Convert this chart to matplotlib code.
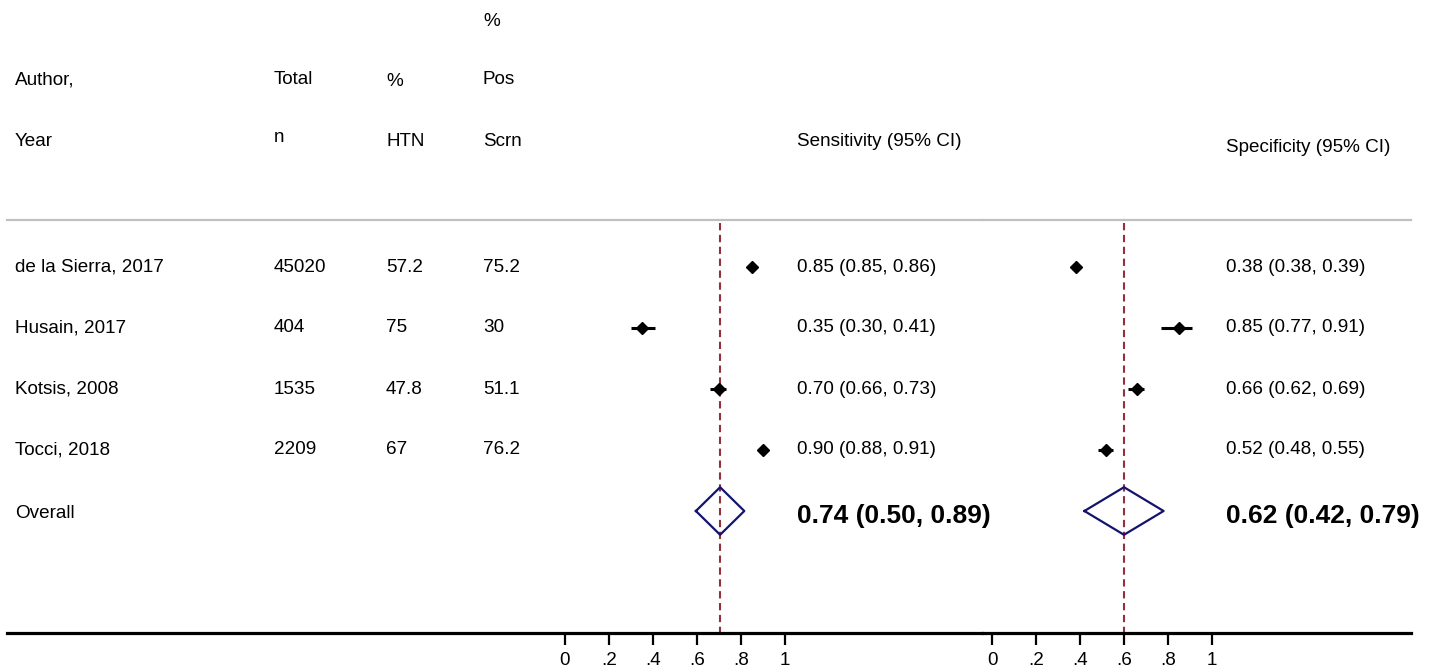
import numpy as np
import matplotlib
matplotlib.use("Agg")
import matplotlib.pyplot as plt

plt.rcParams['font.family'] = ['Liberation Sans', 'DejaVu Sans']

# Study data
authors = ["de la Sierra, 2017", "Husain, 2017", "Kotsis, 2008", "Tocci, 2018"]
total_n = ["45020", "404", "1535", "2209"]
pct_htn = ["57.2", "75", "47.8", "67"]
pct_pos = ["75.2", "30", "51.1", "76.2"]

sens = [0.85, 0.35, 0.70, 0.90]
sens_lo = [0.85, 0.30, 0.66, 0.88]
sens_hi = [0.86, 0.41, 0.73, 0.91]

spec = [0.38, 0.85, 0.66, 0.52]
spec_lo = [0.38, 0.77, 0.62, 0.48]
spec_hi = [0.39, 0.91, 0.69, 0.55]

# Pooled estimates (text) and diamonds as drawn (lo, mid, hi)
sens_overall_txt = "0.74 (0.50, 0.89)"
spec_overall_txt = "0.62 (0.42, 0.79)"
sens_diamond = [0.595, 0.705, 0.815]
spec_diamond = [0.42, 0.60, 0.78]

ticks = [0, 0.2, 0.4, 0.6, 0.8, 1]
tick_labels = ["0", ".2", ".4", ".6", ".8", "1"]

W, H = 1437, 669
fig = plt.figure(figsize=(W / 100, H / 100), dpi=100)

FS = 13.6
RED = "#93303c"
NAVY = "#14146e"


def px(x, y):
    return x / W, 1 - y / H


# Header / table text
def ftext(x, y, s, **kw):
    fx, fy = px(x, y)
    fig.text(fx, fy, s, fontsize=FS, va="center", ha="left", **kw)


ftext(483, 22, "%")
ftext(15, 80, "Author,")
ftext(274, 80, "Total")
ftext(386, 82, "%")
ftext(483, 80, "Pos")
ftext(15, 141, "Year")
ftext(274, 138, "n")
ftext(386, 141, "HTN")
ftext(483, 141, "Scrn")
ftext(797, 141, "Sensitivity (95% CI)")
ftext(1226, 148, "Specificity (95% CI)")

row_y0, row_dy = 267, 61
for i in range(len(authors)):
    y = row_y0 + row_dy * i
    ftext(15, y, authors[i])
    ftext(274, y, total_n[i])
    ftext(386, y, pct_htn[i])
    ftext(483, y, pct_pos[i])
ftext(15, row_y0 + row_dy * 4 + 3, "Overall")

# Panel axes: x scale 220 px per unit, 0 at 565 (sens) and 992 (spec)
top_px, bot_px = 219, 633
ylim = ((bot_px - row_y0) / row_dy, (top_px - row_y0) / row_dy)
scale = 220.0


def make_ax(left_px, right_px, zero_px):
    l, b = left_px / W, 1 - bot_px / H
    w, h = (right_px - left_px) / W, (bot_px - top_px) / H
    ax = fig.add_axes([l, b, w, h])
    ax.set_xlim((left_px - zero_px) / scale, (right_px - zero_px) / scale)
    ax.set_ylim(*ylim)
    for s in ["top", "left", "right"]:
        ax.spines[s].set_visible(False)
    ax.spines["bottom"].set_linewidth(2.3)
    ax.set_yticks([])
    ax.set_xticks(ticks)
    ax.set_xticklabels(tick_labels, fontsize=FS)
    ax.tick_params(axis="x", direction="out", length=8.5, width=1.6, pad=5)
    ax.patch.set_alpha(0)
    # gray separator under header
    ax.axhline((220 - row_y0) / row_dy, color="#c0c0c0", lw=1.6, clip_on=False)
    return ax


def draw_panel(ax, est, lo, hi, diamond, overall_txt, txt_x):
    rows = np.arange(len(est))
    ax.vlines(diamond[1], (223 - row_y0) / row_dy, ylim[0], color=RED,
              lw=1.5, linestyles=(0, (3.5, 2.2)), zorder=1)
    ax.hlines(rows, lo, hi, color="black", lw=2.2, zorder=2)
    ax.plot(est, rows, "D", color="black", ms=6, zorder=3)
    yo = len(est)
    dx = [diamond[0], diamond[1], diamond[2], diamond[1], diamond[0]]
    dy = [yo, yo - 0.39, yo, yo + 0.39, yo]
    ax.plot(dx, dy, color=NAVY, lw=1.6, zorder=3)
    for i in rows:
        ax.text(txt_x, i, f"{est[i]:.2f} ({lo[i]:.2f}, {hi[i]:.2f})",
                fontsize=FS, va="center", ha="left")
    ax.text(txt_x, yo + 0.08, overall_txt, fontsize=19, fontweight="bold",
            va="center", ha="left")


ax1 = make_ax(7, 982, 565)
draw_panel(ax1, sens, sens_lo, sens_hi, sens_diamond, sens_overall_txt,
           (797 - 565) / scale)

ax2 = make_ax(983, 1411, 992)
draw_panel(ax2, spec, spec_lo, spec_hi, spec_diamond, spec_overall_txt,
           (1226 - 992) / scale)

fig.savefig("out.png", dpi=100)
